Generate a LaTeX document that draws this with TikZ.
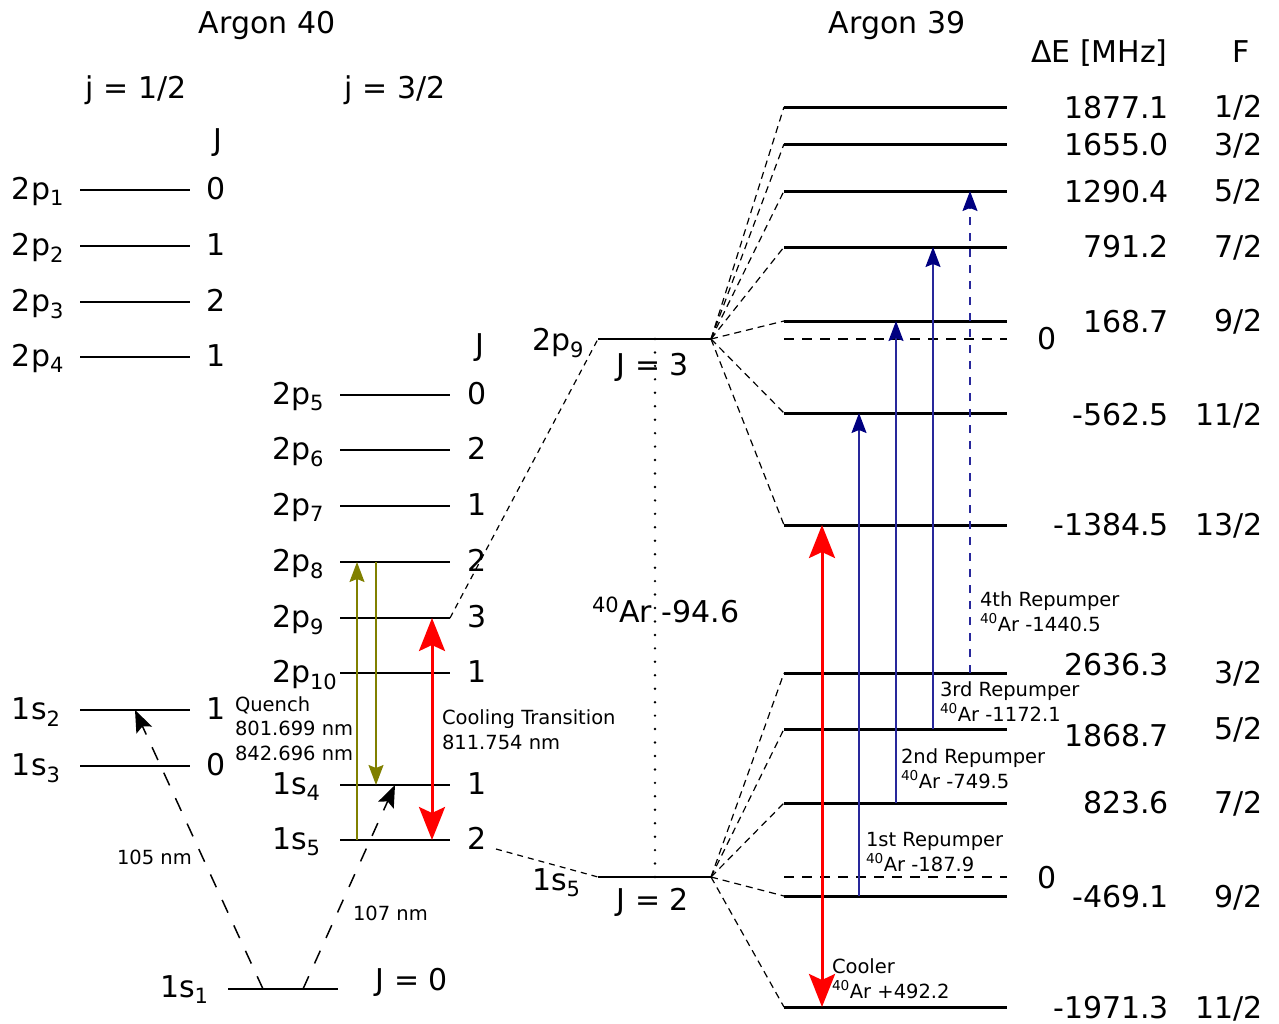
\documentclass[tikz,border=0pt]{standalone}
\usepackage{fontspec}
\setmainfont{DejaVu Sans}
\usetikzlibrary{arrows.meta,calc}
\definecolor{ol}{RGB}{128,128,0}
\definecolor{nv}{RGB}{0,0,128}
\definecolor{bl}{RGB}{40,40,155}
\definecolor{rd}{RGB}{255,0,0}
\newcommand{\sbs}[1]{\textsubscript{#1}}
\newcommand{\sps}[1]{\textsuperscript{#1}}
\begin{document}
\begin{tikzpicture}[x=1pt,y=-1pt,
  every node/.style={inner sep=0pt,outer sep=0pt},
  big/.style={font=\fontsize{30}{36}\selectfont},
  small/.style={font=\fontsize{19.5}{24.5}\selectfont,align=left},
  lev/.style={line width=1.7pt},
  mlev/.style={line width=2pt},
  hlev/.style={line width=3pt},
  fan/.style={line width=1.2pt,dash pattern=on 7pt off 5pt},
  zeroline/.style={line width=1.5pt,dash pattern=on 10pt off 8pt},
  vuv/.style={line width=1.5pt,dash pattern=on 14pt off 14pt,-{Stealth[length=22pt,width=17pt,inset=4pt,fill=black]}},
  olarrow/.style={ol,line width=1.5pt,-{Stealth[length=20pt,width=15pt,inset=3pt]}},
  rdarrow/.style={rd,line width=3pt,{Stealth[length=33pt,width=26pt,inset=6pt]}-{Stealth[length=33pt,width=26pt,inset=6pt]}},
  blarrow/.style={bl,line width=1.5pt,-{Stealth[length=20pt,width=15pt,inset=3pt,fill=nv,color=nv]}},
]
\useasboundingbox (0,0) rectangle (1279,1023);

% ---------------- Argon 40 ----------------
\node[big,anchor=base] (t40) at (267,33) {Argon 40};
\node[big,anchor=base] (jh) at (136,98) {j = 1/2};
\node[big,anchor=base] (jt) at (395,98) {j = 3/2};
\node[big,anchor=base] (Jl) at (218,150) {J};
\node[big,anchor=base] (Jr) at (480,355) {J};

\foreach \n/\lab/\J/\y in {a1/2p\sbs{1}/0/190, a2/2p\sbs{2}/1/246, a3/2p\sbs{3}/2/302, a4/2p\sbs{4}/1/357, s2/1s\sbs{2}/1/710, s3/1s\sbs{3}/0/766}{
  \coordinate (\n L) at (80,\y);
  \coordinate (\n R) at (190,\y);
  \draw[lev] (\n L) -- (\n R);
  \node[big,anchor=base west] (\n lab) at (12,{\y+9}) {\lab};
  \node[big,anchor=base] (\n J) at (216,{\y+9}) {\J};
}
\foreach \n/\lab/\J/\y in {p5/2p\sbs{5}/0/395, p6/2p\sbs{6}/2/450, p7/2p\sbs{7}/1/506, p8/2p\sbs{8}/2/562, p9/2p\sbs{9}/3/618, p10/2p\sbs{10}/1/673, s4/1s\sbs{4}/1/785, s5/1s\sbs{5}/2/840}{
  \coordinate (\n L) at (340,\y);
  \coordinate (\n R) at (450,\y);
  \draw[lev] (\n L) -- (\n R);
  \node[big,anchor=base west] (\n lab) at (272,{\y+9}) {\lab};
  \node[big,anchor=base] (\n J) at (477,{\y+9}) {\J};
}
% ground state
\coordinate (s1L) at (228,989);
\coordinate (s1R) at (338,989);
\draw[lev] (s1L) -- (s1R);
\node[big,anchor=base west] (s1lab) at (160,997) {1s\sbs{1}};
\node[big,anchor=base] (s1J) at (412,990) {J = 0};

% quench VUV arrows
\coordinate (q1a) at (263,989);
\coordinate (q1b) at (135,710);
\coordinate (q2a) at (303,989);
\coordinate (q2b) at (395,785);
\draw[vuv] (q1a) -- (q1b);
\draw[vuv] (q2a) -- (q2b);
\node[small,anchor=base west] (n105) at (117,864) {105 nm};
\node[small,anchor=base west] (n107) at (353,920) {107 nm};

% olive quench arrows
\coordinate (o1a) at (357,840);
\coordinate (o1b) at (357,562);
\coordinate (o2a) at (376,562);
\coordinate (o2b) at (376,785);
\draw[olarrow] (o1a) -- (o1b);
\draw[olarrow] (o2a) -- (o2b);
\node[small,anchor=base west] (quench) at (235,760) {Quench\\801.699 nm\\842.696 nm};

% cooling transition
\coordinate (c1a) at (432,618);
\coordinate (c1b) at (432,840);
\draw[rdarrow] (c1a) -- (c1b);
\node[small,anchor=base west] (cool) at (442,749) {Cooling Transition\\811.754 nm};

% ---------------- middle (Argon 39 fine levels) ----------------
\coordinate (m9L) at (598,339);
\coordinate (m9R) at (711,339);
\coordinate (m5L) at (598,877);
\coordinate (m5R) at (711,877);
\draw[mlev] (m9L) -- (m9R);
\draw[mlev] (m5L) -- (m5R);
\node[big,anchor=base west] (m9lab) at (532,350) {2p\sbs{9}};
\node[big,anchor=base] (m9J) at (653,375) {J = 3};
\node[big,anchor=base west] (m5lab) at (532,890) {1s\sbs{5}};
\node[big,anchor=base] (m5J) at (653,910) {J = 2};
\coordinate (c5start) at (496,849);
\draw[fan,dash pattern=on 6pt off 5pt] (p9R) -- (m9L);
\draw[fan,dash pattern=on 6pt off 5pt] (c5start) -- (m5L);
\coordinate (dtop) at (655,339);
\coordinate (dbot) at (655,877);
\draw[line width=2.7pt,line cap=round,dash pattern=on 0pt off 13.45pt] (dtop) -- (dbot);
\node[big,anchor=base west] (iso) at (592,622) {\sps{40}Ar -94.6};

% ---------------- Argon 39 hyperfine ----------------
\node[big,anchor=base] (t39) at (897,33) {Argon 39};
\node[big,anchor=base west] (dE) at (1031,62) {ΔE [MHz]};
\node[big,anchor=base] (Fh) at (1241,62) {F};

\foreach \n/\E/\F/\y/\eb/\fb in {u1/1877.1/1\slash 2/107/118/117, u2/1655.0/3\slash 2/144/155/155, u3/1290.4/5\slash 2/191/202/201, u4/791.2/7\slash 2/247/257/257, u5/168.7/9\slash 2/321/332/331, u6/-562.5/11\slash 2/413/425/425, u7/-1384.5/13\slash 2/525/535/535}{
  \coordinate (\n L) at (784,\y);
  \coordinate (\n R) at (1007,\y);
  \draw[hlev] (\n L) -- (\n R);
  \draw[fan] (m9R) -- (\n L);
  \node[big,anchor=base east] (\n E) at (1169,\eb) {\E};
  \node[big,anchor=base east] (\n F) at (1263,\fb) {\F};
}
\foreach \n/\E/\F/\y/\eb/\fb in {l1/2636.3/3\slash 2/673/675/683, l2/1868.7/5\slash 2/729/746/739, l3/823.6/7\slash 2/803/813/813, l4/-469.1/9\slash 2/896/907/907, l5/-1971.3/11\slash 2/1007/1018/1018}{
  \coordinate (\n L) at (784,\y);
  \coordinate (\n R) at (1007,\y);
  \draw[hlev] (\n L) -- (\n R);
  \draw[fan] (m5R) -- (\n L);
  \node[big,anchor=base east] (\n E) at (1169,\eb) {\E};
  \node[big,anchor=base east] (\n F) at (1263,\fb) {\F};
}
% zero reference lines
\coordinate (z1L) at (784,339);
\coordinate (z1R) at (1007,339);
\coordinate (z2L) at (784,877);
\coordinate (z2R) at (1007,877);
\draw[zeroline] (z1L) -- (z1R);
\draw[zeroline] (z2L) -- (z2R);
\node[big,anchor=base] (z1) at (1047,349) {0};
\node[big,anchor=base] (z2) at (1047,888) {0};

% cooler
\coordinate (ca) at (822,525);
\coordinate (cb) at (822,1007);
\draw[rdarrow] (ca) -- (cb);
\node[small,anchor=base west] (cooler) at (832,998) {Cooler\\\sps{40}Ar +492.2};

% repumpers
\coordinate (r1a) at (859,896);
\coordinate (r1b) at (859,413);
\coordinate (r2a) at (896,803);
\coordinate (r2b) at (896,321);
\coordinate (r3a) at (933,729);
\coordinate (r3b) at (933,247);
\coordinate (r4a) at (970,673);
\coordinate (r4b) at (970,191);
\draw[blarrow] (r1a) -- (r1b);
\draw[blarrow] (r2a) -- (r2b);
\draw[blarrow] (r3a) -- (r3b);
\draw[blarrow,dash pattern=on 8pt off 8pt] (r4a) -- (r4b);
\node[small,anchor=base west] (rp1) at (866,871) {1st Repumper\\\sps{40}Ar -187.9};
\node[small,anchor=base west] (rp2) at (901,788) {2nd Repumper\\\sps{40}Ar -749.5};
\node[small,anchor=base west] (rp3) at (940,721) {3rd Repumper\\\sps{40}Ar -1172.1};
\node[small,anchor=base west] (rp4) at (980,631) {4th Repumper\\\sps{40}Ar -1440.5};
\end{tikzpicture}
\end{document}
